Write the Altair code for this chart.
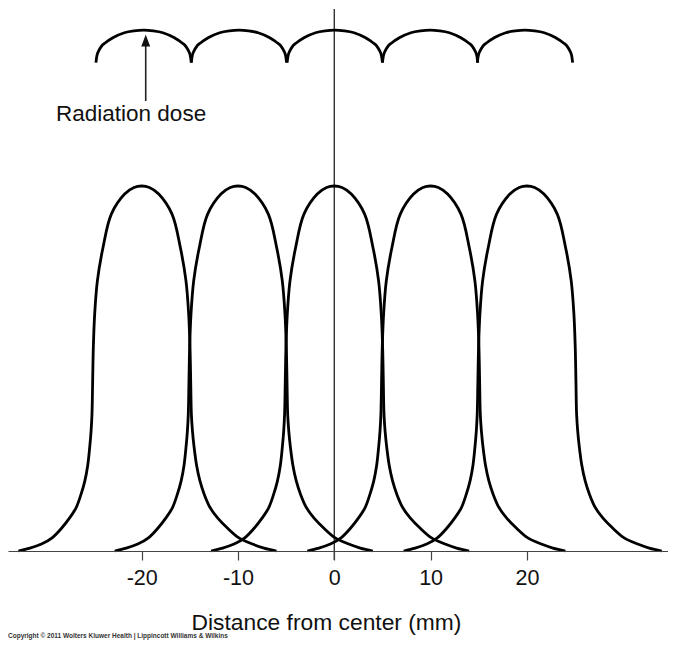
import altair as alt
import pandas as pd

# ---- values ----
BELL_CENTERS = [-20, -10, 0, 10, 20]
BELL_OFFSETS = [-12.8, -11.6, -10.4, -9.3, -8.3, -7.5, -6.8, -6.3, -5.9, -5.6, -5.4, -5.25,
                -5.16, -5.09, -5.02, -4.88, -4.6, -4.02, -3.15, -1.77, -0.8, 0.0,
                0.8, 1.77, 3.15, 4.02, 4.6, 4.88, 5.02, 5.09, 5.16, 5.27, 5.45, 5.7,
                6.05, 6.5, 7.1, 7.9, 8.9, 10.1, 11.5, 12.7, 14.0]
BELL_VALUES = [0.0, 0.008, 0.019, 0.036, 0.063, 0.09, 0.119, 0.155, 0.192, 0.235, 0.283, 0.33,
               0.375, 0.466, 0.557, 0.649, 0.74, 0.831, 0.923, 0.978, 0.996, 1.0,
               0.996, 0.978, 0.923, 0.831, 0.74, 0.649, 0.557, 0.466, 0.375, 0.33, 0.283, 0.235,
               0.192, 0.155, 0.119, 0.09, 0.063, 0.036, 0.019, 0.008, 0.0]

DOSE_CENTERS = [-19.8, -9.9, 0.05, 9.95, 19.8]
DOSE_OFFSETS = [-4.95, -4.85, -4.65, -4.4, -4.0, -3.2, -2.0, -1.0, 0.0,
                1.0, 2.0, 3.2, 4.0, 4.4, 4.65, 4.85, 4.95]
DOSE_VALUES = [1.338, 1.357, 1.371, 1.382, 1.392, 1.406, 1.420, 1.425, 1.427,
               1.425, 1.420, 1.406, 1.392, 1.382, 1.371, 1.357, 1.338]

TICK_VALUES = [-20, -10, 0, 10, 20]
X_DOMAIN = [-33.88, 34.65]
Y_DOMAIN = [0, 1.485]

ARROW_X = -19.58
ARROW_Y = [1.233, 1.384]
ARROW_HEAD_Y = [1.399]
LABEL_TEXT = ["Radiation dose"]
LABEL_X = [-21.1]
LABEL_Y = [1.197]
X_TITLE = "Distance from center (mm)"
CREDIT = ["Copyright © 2011 Wolters Kluwer Health | Lippincott Williams & Wilkins"]

W, H = 660, 542
FONT = "Liberation Sans"

# ---- tables ----
bells = pd.DataFrame([
    {"curve": i, "x": c + o, "y": v}
    for i, c in enumerate(BELL_CENTERS)
    for o, v in zip(BELL_OFFSETS, BELL_VALUES)
])
dose = pd.DataFrame([
    {"arc": i, "x": c + o, "y": v}
    for i, c in enumerate(DOSE_CENTERS)
    for o, v in zip(DOSE_OFFSETS, DOSE_VALUES)
])
arrow = pd.DataFrame({"x": [ARROW_X] * len(ARROW_Y), "y": ARROW_Y})
head = pd.DataFrame({"x": [ARROW_X], "y": ARROW_HEAD_Y})
label = pd.DataFrame({"x": LABEL_X, "y": LABEL_Y, "t": LABEL_TEXT})
center = pd.DataFrame({"x": [0]})

X = alt.X("x:Q",
          scale=alt.Scale(domain=X_DOMAIN, nice=False, zero=False),
          axis=alt.Axis(values=TICK_VALUES, title=X_TITLE, grid=False, zindex=1,
                        labelExpr="'' + datum.value",
                        domainColor="#444", domainWidth=1.2,
                        tickColor="#444", tickWidth=1.2, tickSize=9,
                        labelFont=FONT, labelFontSize=21.5, labelColor="#111",
                        labelPadding=7, labelFlush=False,
                        titleFont=FONT, titleFontSize=22.8, titleFontWeight="normal",
                        titleColor="#111", titlePadding=23,
                        titleX=318, titleAlign="center", titleAnchor="start"))
Y = alt.Y("y:Q", scale=alt.Scale(domain=Y_DOMAIN, nice=False, zero=False), axis=None)

vline = alt.Chart(center).mark_rule(color="#333", strokeWidth=1.4).encode(
    x=X, y=alt.value(0), y2=alt.value(H + 9))

bell_lines = alt.Chart(bells).mark_line(
    interpolate="catmull-rom", color="black", strokeWidth=2.8
).encode(x=X, y=Y, detail="curve:N")

dose_lines = alt.Chart(dose).mark_line(
    interpolate="monotone", color="black", strokeWidth=2.8
).encode(x=X, y=Y, detail="arc:N")

shaft = alt.Chart(arrow).mark_line(color="#222", strokeWidth=1.6).encode(x=X, y=Y)

arrow_head = alt.Chart(head).mark_point(
    shape="M0,-1L0.75,1L-0.75,1Z", filled=True, size=144, color="#111", opacity=1
).encode(x=X, y=Y)

label_text = alt.Chart(label).mark_text(
    font=FONT, fontSize=22.5, color="#111", align="center", baseline="middle"
).encode(x=X, y=Y, text="t:N")

credit = alt.Chart(pd.DataFrame({"t": CREDIT})).mark_text(
    font=FONT, fontSize=6.5, fontWeight="bold", color="#333", align="left", baseline="bottom"
).encode(x=alt.value(0), y=alt.value(630), text="t:N")

chart = alt.layer(
    vline, bell_lines, dose_lines, shaft, arrow_head, label_text, credit
).properties(
    width=W, height=H, padding=0, background="white"
).configure_view(stroke=None)

chart.save("out.html", embed_options={"renderer": "svg", "actions": False})
